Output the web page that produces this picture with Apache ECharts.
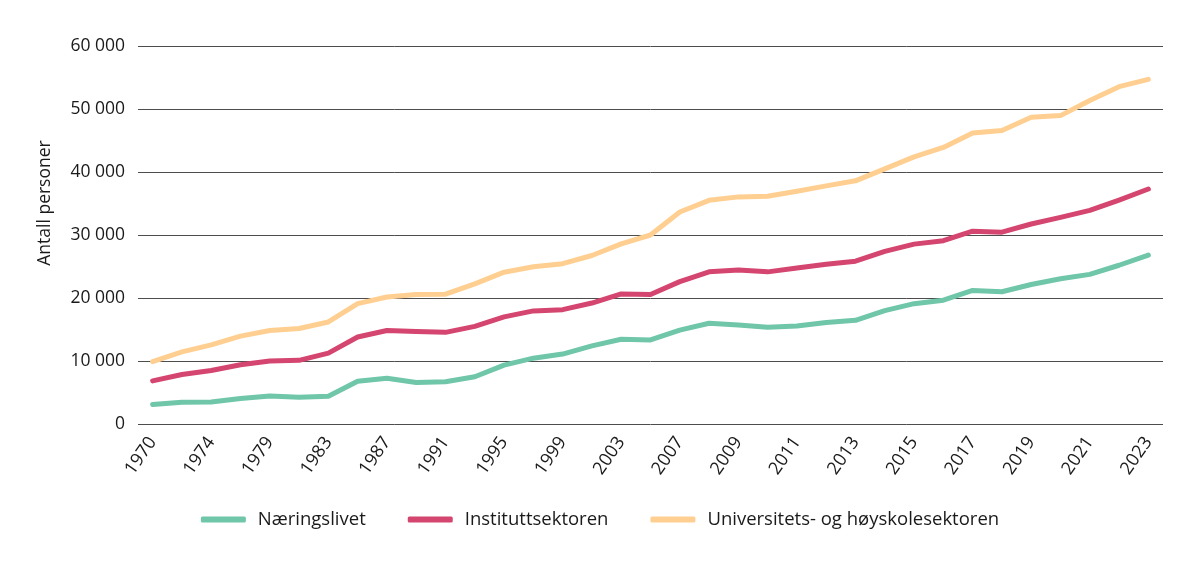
<!DOCTYPE html>
<html>
<head>
<meta charset="utf-8">
<script src="https://cdn.jsdelivr.net/npm/echarts@6/dist/echarts.min.js"></script>
<style>
html,body{margin:0;padding:0;background:#fff;}
#chart{width:1200px;height:568px;}
</style>
</head>
<body>
<div id="chart"></div>
<script>
const years = ['1970','1972','1974','1977','1979','1981','1983','1985','1987','1989','1991','1993','1995','1997','1999','2001','2003','2005','2007','2008','2009','2010','2011','2012','2013','2014','2015','2016','2017','2018','2019','2020','2021','2022','2023'];

const naeringslivet = [3100,3450,3500,4050,4450,4250,4400,6800,7250,6600,6700,7500,9350,10450,11100,12400,13450,13350,14900,16000,15700,15350,15550,16100,16450,18000,19100,19650,21200,21000,22150,23050,23750,25200,26800];

const instituttsektoren = [6850,7850,8500,9400,10000,10100,11250,13800,14850,14700,14550,15500,17000,17950,18150,19200,20650,20550,22600,24150,24450,24150,24750,25350,25850,27400,28550,29100,30600,30450,31750,32800,33900,35550,37300];

const uhSektoren = [9900,11450,12550,13950,14850,15150,16200,19100,20150,20550,20600,22250,24100,24950,25450,26750,28600,30000,33650,35500,36050,36150,36950,37800,38600,40500,42400,43900,46200,46600,48700,48950,51350,53550,54700];

const seriesNames = ['Næringslivet','Instituttsektoren','Universitets- og høyskolesektoren'];
const colors = ['#6fc6a9','#d4456f','#ffcf91'];

const FONT = 'Open Sans';
const chart = echarts.init(document.getElementById('chart'));

function fmt(v){
  return String(v).replace(/\B(?=(\d{3})+(?!\d))/g, ' ');
}

function mkSeries(name, data, color){
  return {
    name: name,
    type: 'line',
    data: data,
    symbol: 'none',
    smooth: false,
    lineStyle: {width: 5, color: color, cap: 'round', join: 'round'},
    itemStyle: {color: color}
  };
}

chart.setOption({
  animation: false,
  color: colors,
  grid: {left: 138, right: 37, top: 46, bottom: 144},
  legend: {
    bottom: 34,
    left: 'center',
    icon: 'roundRect',
    itemWidth: 45,
    itemHeight: 6,
    itemGap: 42,
    textStyle: {fontFamily: FONT, fontSize: 18.5, color: '#1a1a1a', padding: [0,0,0,7]},
    data: seriesNames
  },
  xAxis: {
    type: 'category',
    data: years,
    boundaryGap: true,
    axisLine: {show: false},
    axisTick: {show: false},
    axisLabel: {
      interval: 1,
      rotate: 55,
      margin: 15,
      fontFamily: FONT,
      fontSize: 18,
      color: '#1a1a1a'
    },
    splitLine: {show: false}
  },
  yAxis: {
    type: 'value',
    min: 0,
    max: 60000,
    interval: 10000,
    name: 'Antall personer',
    nameLocation: 'middle',
    nameGap: 84,
    nameRotate: 90,
    nameTextStyle: {fontFamily: FONT, fontSize: 17.5, color: '#1a1a1a', padding: [0,0,0,64]},
    axisLine: {show: false},
    axisTick: {show: false},
    axisLabel: {
      margin: 13,
      fontFamily: FONT,
      fontSize: 17.5,
      color: '#1a1a1a',
      formatter: fmt
    },
    splitLine: {lineStyle: {color: '#4d4d4d', width: 1}}
  },
  series: [
    mkSeries(seriesNames[0], naeringslivet, colors[0]),
    mkSeries(seriesNames[1], instituttsektoren, colors[1]),
    mkSeries(seriesNames[2], uhSektoren, colors[2])
  ]
});
</script>
</body>
</html>
